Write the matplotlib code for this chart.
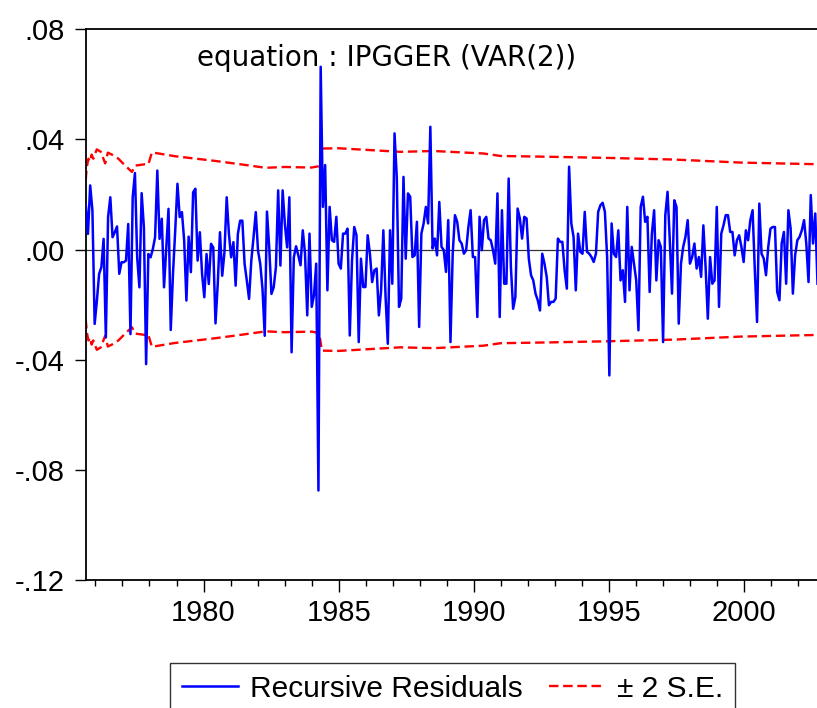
import numpy as np
import matplotlib
matplotlib.use("Agg")
from matplotlib import pyplot as plt
from matplotlib.lines import Line2D
from matplotlib.ticker import FixedLocator, MultipleLocator, FuncFormatter

# recursive residuals, one value per month in three stretches
resid_1975_1984 = [0.0166, 0.0057, 0.0233, 0.0142, -0.0270, -0.0185, -0.0088, -0.0064, 0.0039, -0.0319,
                   0.0118, 0.0190, 0.0045, 0.0063, 0.0084, -0.0088, -0.0046, -0.0046, -0.0040, 0.0093,
                   -0.0307, 0.0190, 0.0278, -0.0028, -0.0137, 0.0205, 0.0081, -0.0416, -0.0016, -0.0028,
                   0.0002, 0.0045, 0.0287, 0.0039, 0.0112, -0.0137, 0.0008, 0.0148, -0.0292, -0.0088,
                   0.0069, 0.0239, 0.0118, 0.0136, 0.0033, -0.0185, 0.0047, -0.0082, 0.0208, 0.0221,
                   -0.0040, 0.0063, -0.0088, -0.0173, -0.0016, -0.0125, 0.0021, 0.0008, -0.0268, -0.0125,
                   0.0063, -0.0095, -0.0010, 0.0190, 0.0057, -0.0028, 0.0027, -0.0131, 0.0057, 0.0105,
                   0.0105, -0.0052, -0.0113, -0.0179, -0.0040, 0.0045, 0.0136, -0.0004, -0.0052, -0.0143,
                   -0.0313, 0.0138, 0.0008, -0.0161, -0.0137, -0.0064, 0.0215, -0.0058, 0.0215, 0.0093,
                   0.0008, 0.0190, -0.0373, -0.0028, 0.0012]
resid_1984_1993 = [-0.0021, -0.0057, 0.0070, -0.0015, -0.0239, 0.0058, -0.0208, -0.0166, -0.0051, -0.0875,
                   0.0664, 0.0155, 0.0307, -0.0148, 0.0155, 0.0034, 0.0028, 0.0119, -0.0051, -0.0069,
                   0.0058, 0.0058, 0.0076, -0.0312, -0.0039, 0.0082, 0.0052, -0.0336, -0.0033, -0.0136,
                   -0.0136, 0.0052, -0.0015, -0.0118, -0.0075, -0.0069, -0.0239, -0.0148, 0.0070, -0.0172,
                   -0.0342, 0.0070, -0.0124, 0.0422, 0.0264, -0.0208, -0.0178, 0.0264, -0.0033, 0.0204,
                   0.0192, -0.0027, -0.0021, 0.0101, -0.0281, 0.0058, 0.0095, 0.0155, 0.0095, 0.0446,
                   0.0004, 0.0040, -0.0021, 0.0173, 0.0010, -0.0002, -0.0081, 0.0107, -0.0336, -0.0015,
                   0.0125, 0.0101, 0.0034, 0.0022, -0.0015, -0.0002, 0.0082, 0.0143, -0.0027, -0.0027,
                   -0.0245, 0.0119, -0.0002, 0.0107, 0.0119, 0.0040, 0.0034, -0.0002, -0.0051, 0.0204,
                   -0.0245, 0.0143, -0.0124, -0.0124, 0.0258, -0.0063, -0.0215, -0.0172, 0.0149, 0.0113,
                   0.0040, 0.0119, 0.0113, -0.0033, -0.0093, -0.0112, -0.0160]
resid_1993_2002 = [-0.0184, -0.0221, -0.0015, -0.0051, -0.0099, -0.0202, -0.0190, -0.0190, -0.0178, 0.0040,
                   0.0028, 0.0028, -0.0075, -0.0142, 0.0301, 0.0095, 0.0046, -0.0148, 0.0058, -0.0008,
                   -0.0015, 0.0137, -0.0008, -0.0015, -0.0027, -0.0045, -0.0015, 0.0137, 0.0161, 0.0170,
                   0.0137, -0.0027, -0.0457, 0.0095, -0.0015, -0.0027, 0.0070, -0.0112, -0.0075, -0.0190,
                   0.0155, -0.0148, 0.0010, -0.0051, -0.0112, -0.0293, 0.0155, 0.0192, 0.0101, 0.0119,
                   -0.0154, 0.0058, 0.0143, -0.0112, 0.0034, 0.0010, -0.0336, 0.0125, 0.0210, 0.0034,
                   -0.0160, 0.0179, 0.0155, -0.0269, -0.0051, 0.0010, 0.0046, 0.0107, -0.0051, -0.0027,
                   0.0022, -0.0069, -0.0027, -0.0099, 0.0088, -0.0063, -0.0251, -0.0027, -0.0124, -0.0112,
                   0.0155, -0.0208, 0.0058, 0.0088, 0.0125, 0.0125, 0.0064, 0.0064, -0.0021, 0.0034,
                   0.0052, 0.0010, -0.0045, 0.0070, 0.0034, 0.0107, 0.0143, -0.0075, -0.0263, 0.0167,
                   -0.0015, -0.0033, -0.0093, 0.0010, 0.0076, 0.0082, 0.0082, -0.0154, -0.0184, 0.0022,
                   0.0064, -0.0124, 0.0143, 0.0076, -0.0160, -0.0021, 0.0034, 0.0046, 0.0070, 0.0107,
                   0.0022, -0.0118, 0.0198, 0.0022, 0.0131, -0.0124]

first_obs = 1975.64
last_obs = 2002.72

# 2 standard error band (same value above and below zero)
band_years = [1975.64, 1975.68, 1975.74, 1975.80, 1975.86, 1975.92, 1976.05, 1976.20, 1976.36, 1976.46,
              1976.61, 1976.85, 1977.10, 1977.35, 1977.47, 1977.84, 1977.96, 1978.09, 1978.95, 1980.43,
              1981.50, 1982.30, 1983.00, 1984.00, 1984.28, 1984.38, 1985.00, 1987.28, 1988.52, 1990.36,
              1991.00, 1992.84, 1994.94, 1997.41, 1999.88, 2002.72]
band_se = [0.0252, 0.0300, 0.0330, 0.0320, 0.0345, 0.0330, 0.0364, 0.0355, 0.0313, 0.0352,
           0.0345, 0.0330, 0.0305, 0.0282, 0.0305, 0.0310, 0.0310, 0.0353, 0.0339, 0.0322,
           0.0308, 0.0297, 0.0300, 0.0298, 0.0303, 0.0367, 0.0368, 0.0355, 0.0358, 0.0349,
           0.0340, 0.0337, 0.0333, 0.0327, 0.0316, 0.0310]

major_years = [1980, 1985, 1990, 1995, 2000]
y_ticks = [-0.12, -0.08, -0.04, 0.00, 0.04, 0.08]

resid = np.array(resid_1975_1984 + resid_1984_1993 + resid_1993_2002)
years = np.linspace(first_obs, last_obs, len(resid))
se = np.array(band_se)

plt.rcParams['font.family'] = ['Liberation Sans', 'DejaVu Sans']

fig = plt.figure(figsize=(8.17, 7.08), dpi=100)
ax = fig.add_axes([0.1049, 0.1808, 0.899, 0.7778])

ax.axhline(0, color='#333333', lw=0.9, zorder=1)
ax.plot(band_years, se, color='red', lw=1.7, dashes=(4, 2), zorder=2)
ax.plot(band_years, -se, color='red', lw=1.7, dashes=(4, 2), zorder=2)
ax.plot(years, resid, color='blue', lw=1.8, zorder=3)

ax.set_xlim(1975.64, 2002.82)
ax.set_ylim(-0.12, 0.08)

ax.xaxis.set_major_locator(FixedLocator(major_years))
ax.xaxis.set_minor_locator(MultipleLocator(1))
ax.yaxis.set_major_locator(FixedLocator(y_ticks))
ax.yaxis.set_major_formatter(FuncFormatter(lambda v, p: f"{v:.2f}".replace("0.", ".")))

ax.tick_params(axis='x', which='major', direction='out', length=8.5, width=1, pad=5, labelsize=21)
ax.tick_params(axis='x', which='minor', direction='out', length=4.5, width=1)
ax.tick_params(axis='y', direction='out', length=8, width=1, pad=7, labelsize=21)

for side in ['left', 'bottom', 'top']:
    ax.spines[side].set_linewidth(1.3)
ax.spines['right'].set_visible(False)

ax.text(0.41, 0.948, 'equation : IPGGER (VAR(2))', transform=ax.transAxes,
        ha='center', va='center', fontsize=20, family='DejaVu Sans')

handles = [Line2D([], [], color='blue', lw=1.8),
           Line2D([], [], color='red', lw=1.7, dashes=(4, 2))]
leg = fig.legend(handles, ['Recursive Residuals', '\u00b1 2 S.E.'], ncol=2,
                 loc='upper center', bbox_to_anchor=(0.554, 0.0636), fontsize=21.5,
                 frameon=True, fancybox=False, edgecolor='black', borderaxespad=0,
                 handlelength=1.9, handletextpad=0.4, columnspacing=0.85, borderpad=0.4)
leg.get_frame().set_linewidth(1.0)

fig.savefig('out.png', dpi=100)
